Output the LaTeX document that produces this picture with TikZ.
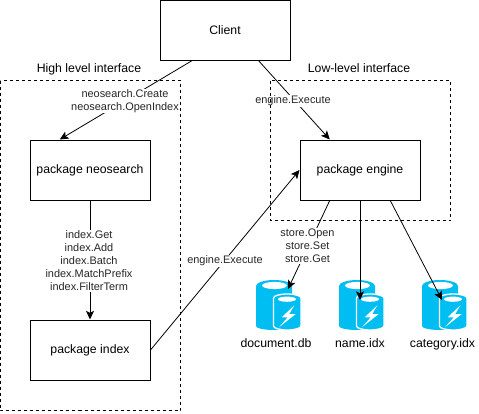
\documentclass[tikz,border=0pt]{standalone}
\usepackage{fontspec}
\setmainfont{Liberation Sans}
\usetikzlibrary{arrows.meta,calc}
\definecolor{azure}{HTML}{00BEF2}
\tikzset{
  box/.style={draw=black,fill=white,line width=.75pt,minimum width=90pt,minimum height=45pt,inner sep=0pt,font=\fontsize{9.2}{11}\selectfont},
  conn/.style={draw=black,line width=.75pt,-{Stealth[length=6.5pt,width=6pt,inset=1.5pt]}},
  slant/.style={conn,line width=.6pt},
  lab/.style={fill=white,inner sep=.6pt,align=center,text=black!85,font=\fontsize{8.2}{9.75}\selectfont},
  title/.style={inner sep=0pt,anchor=base,font=\fontsize{9.2}{11}\selectfont},
  region/.style={draw=black,line width=.75pt,dash pattern=on 2.25pt off 2.25pt},
  iconlab/.style={inner sep=0pt,anchor=base,font=\fontsize{9.2}{11}\selectfont}
}
\newcommand{\dbicon}[1]{%
  \begin{scope}[xshift=#1*.75pt]
    \fill[azure] (256,286) arc[x radius=18,y radius=6,start angle=180,end angle=360] -- (292,326) arc[x radius=18,y radius=4,start angle=0,end angle=180] -- cycle;
    \fill[white] (274.5,285.5) ellipse[x radius=12.5,y radius=3.6];
    \fill[azure,draw=white,line width=1pt] (273.5,298) arc[x radius=13.75,y radius=4,start angle=180,end angle=360] -- (301,326) arc[x radius=13.75,y radius=4,start angle=0,end angle=180] -- cycle;
    \fill[white] (287,299.2) ellipse[x radius=9,y radius=2.6];
    \fill[white] (294.3,305.3) -- (281.7,317.3) -- (287.7,317.3) -- (279.3,327) -- (295.7,314) -- (289.3,314) -- cycle;
  \end{scope}}
\begin{document}
\begin{tikzpicture}[x=.75pt,y=-.75pt]
\useasboundingbox (0,0) rectangle (479,414);
% cylinders
\dbicon{0}
\dbicon{83}
\dbicon{166}
\coordinate (docin) at (288,289);
\coordinate (namein) at (360,300);
\coordinate (catin) at (442,300);
% boxes
\node[box,minimum width=97.5pt] (client) at (225,30) {Client};
\node[box] (neo) at (90,170) {package neosearch};
\node[box] (idx) at (90,350) {package index};
\node[box] (eng) at (360,170) {package engine};
% connectors
\draw[slant] ($(client.south west)!.25!(client.south east)$) -- ($(neo.north west)!.25!(neo.north east)$);
\draw[slant] ($(client.south west)!.755!(client.south east)$) -- ($(eng.north west)!.25!(eng.north east)$);
\draw[conn] (neo.south) -- (idx.north);
\draw[slant] (idx.east) -- (eng.west);
\draw[slant] ($(eng.south west)!.25!(eng.south east)$) -- (docin);
\draw[conn] (eng.south) -- (namein);
\draw[slant] ($(eng.south west)!.75!(eng.south east)$) -- (catin);
% labels
\node[lab] (l1) at (125,101) {neosearch.Create\\neosearch.OpenIndex};
\node[lab] (l2) at (293,101) {engine.Execute};
\node[lab] (l3) at (89,261) {index.Get\\index.Add\\index.Batch\\index.MatchPrefix\\index.FilterTerm};
\node[lab] (l4) at (225,261) {engine.Execute};
\node[lab] (l5) at (307.5,246) {store.Open\\store.Set\\store.Get};
% regions
\draw[region] (.5,80.5) rectangle (180.5,410.5);
\draw[region] (270.5,80.5) rectangle (450.5,220.5);
\node[title] (t1) at (89,72.5) {High level interface};
\node[title] (t2) at (359,72.5) {Low-level interface};
\node[iconlab] (n1) at (276,347) {document.db};
\node[iconlab] (n2) at (360,347) {name.idx};
\node[iconlab] (n3) at (442.5,347) {category.idx};
\end{tikzpicture}
\end{document}
